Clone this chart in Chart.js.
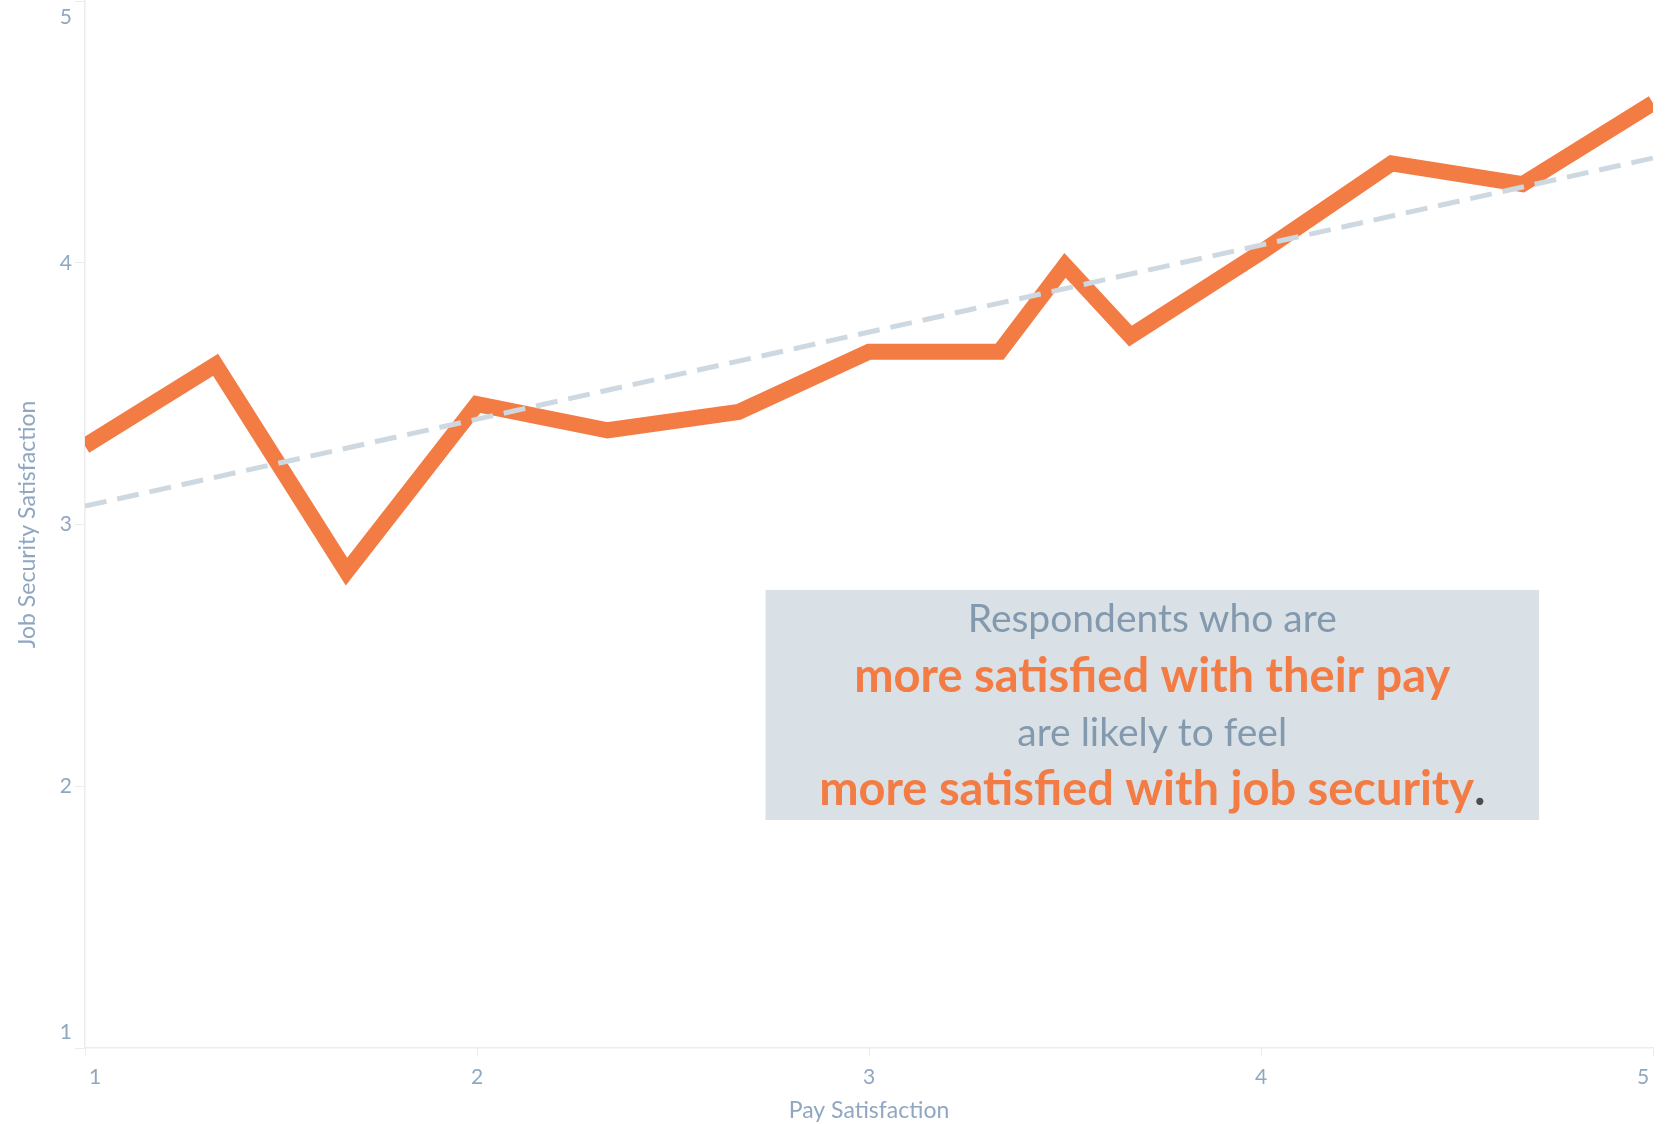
<!DOCTYPE html>
<html>
<head>
<meta charset="utf-8">
<script src="https://cdn.jsdelivr.net/npm/chart.js@4.4.1/dist/chart.umd.min.js"></script>
<style>
  html, body { margin: 0; padding: 0; background: #fff; }
  canvas { display: block; }
</style>
</head>
<body>
<canvas id="chart" width="1665" height="1124"></canvas>
<script>
// average job security score for each pay satisfaction level
const payScore = [1, 1.333, 1.667, 2, 2.333, 2.667, 3, 3.333, 3.5, 3.667, 4, 4.333, 4.667, 5];
const jobScore = [3.30, 3.61, 2.82, 3.46, 3.36, 3.43, 3.66, 3.66, 3.99, 3.72, 4.04, 4.38, 4.30, 4.61];

// linear fit through the same points
const trendX = [1, 5];
const trendY = [3.07, 4.40];

const axisTicks = [1, 2, 3, 4, 5];

const xTitle = 'Pay Satisfaction';
const yTitle = 'Job Security Satisfaction';

// callout text, one entry per line; runs are [text, kind]
const calloutLines = [
  [['Respondents who are', 'plain']],
  [['more satisfied with their pay', 'strong']],
  [['are likely to feel', 'plain']],
  [['more satisfied with job security', 'strong'], ['.', 'dot']],
];

const ORANGE = '#F37C44';
const LABEL = '#8fa7c1';
const AXIS = '#ececec';
const FONT = 'Lato';

// pull the first and last tick labels inside the axis ends
const endLabels = {
  id: 'endLabels',
  beforeDraw(chart) {
    const nudge = (scale, dx, dy) => {
      const items = scale.getLabelItems(chart.chartArea);
      if (!items || !items.length) return;
      const first = items[0].options, last = items[items.length - 1].options;
      first.translation = [first.translation[0] + dx, first.translation[1] - dy];
      last.translation = [last.translation[0] - dx, last.translation[1] + dy];
    };
    nudge(chart.scales.x, 10, 0);
    nudge(chart.scales.y, 0, 16);
  }
};

// grey box with the takeaway message
const callout = {
  id: 'callout',
  beforeDatasetsDraw(chart, args, opts) {
    const { ctx, scales: { x, y } } = chart;
    const left = x.getPixelForValue(opts.x0);
    const right = x.getPixelForValue(opts.x1);
    const top = y.getPixelForValue(opts.y1);
    const bottom = y.getPixelForValue(opts.y0);
    ctx.save();
    ctx.fillStyle = '#d9e0e6';
    ctx.fillRect(left, top, right - left, bottom - top);

    const styles = {
      plain: { font: `400 39px ${FONT}`, color: '#8399ae' },
      strong: { font: `700 47px ${FONT}`, color: ORANGE },
      dot: { font: `700 47px ${FONT}`, color: '#4d4d4d' },
    };
    const lineY = [29, 87, 143, 200];
    const cx = (left + right) / 2;
    ctx.textBaseline = 'middle';
    ctx.textAlign = 'left';
    calloutLines.forEach((runs, i) => {
      let total = 0;
      const widths = runs.map(([t, k]) => {
        ctx.font = styles[k].font;
        const w = ctx.measureText(t).width;
        total += w;
        return w;
      });
      let px = cx - total / 2;
      runs.forEach(([t, k], j) => {
        ctx.font = styles[k].font;
        ctx.fillStyle = styles[k].color;
        ctx.fillText(t, px, top + lineY[i]);
        px += widths[j];
      });
    });
    ctx.restore();
  }
};

const data = {
  datasets: [
    {
      label: 'Job security',
      data: payScore.map((p, i) => ({ x: p, y: jobScore[i] })),
      borderColor: ORANGE,
      borderWidth: 16,
      borderJoinStyle: 'miter',
      pointRadius: 0,
      tension: 0,
      order: 1,
    },
    {
      label: 'Trend',
      data: trendX.map((p, i) => ({ x: p, y: trendY[i] })),
      borderColor: '#cdd8e1',
      borderWidth: 5,
      borderDash: [22, 11],
      pointRadius: 0,
      order: 0,
    },
  ],
};

const tickFont = { family: FONT, size: 21 };
const titleFont = { family: FONT, size: 23 };

const config = {
  type: 'line',
  data,
  plugins: [endLabels, callout],
  options: {
    responsive: false,
    animation: false,
    layout: { padding: { top: 1, right: 12, left: 0, bottom: 0 } },
    plugins: {
      legend: { display: false },
      tooltip: { enabled: false },
      callout: { x0: 2.736, x1: 4.709, y0: 1.871, y1: 2.75 },
    },
    scales: {
      x: {
        type: 'linear',
        min: 1,
        max: 5,
        afterBuildTicks: s => { s.ticks = axisTicks.map(v => ({ value: v })); },
        ticks: { color: LABEL, font: tickFont, padding: 9, maxRotation: 0 },
        grid: { drawOnChartArea: false, color: AXIS, tickLength: 8 },
        border: { color: AXIS, width: 1.5 },
        title: {
          display: true,
          text: xTitle,
          color: LABEL,
          font: titleFont,
          padding: { top: 0, bottom: 0 },
        },
        afterFit: s => { s.height = 76; s.paddingLeft = 0; s.paddingRight = 0; },
      },
      y: {
        type: 'linear',
        min: 1,
        max: 5,
        afterBuildTicks: s => { s.ticks = axisTicks.map(v => ({ value: v })); },
        ticks: { color: LABEL, font: tickFont, padding: 3 },
        grid: { drawOnChartArea: false, color: AXIS, tickLength: 10 },
        border: { color: AXIS, width: 1.5 },
        title: {
          display: true,
          text: yTitle,
          color: LABEL,
          font: titleFont,
          padding: { top: 14, bottom: 0 },
        },
        afterFit: s => { s.width = 85; s.paddingTop = 0; s.paddingBottom = 0; },
      },
    },
  },
};

new Chart(document.getElementById('chart'), config);
</script>
</body>
</html>
